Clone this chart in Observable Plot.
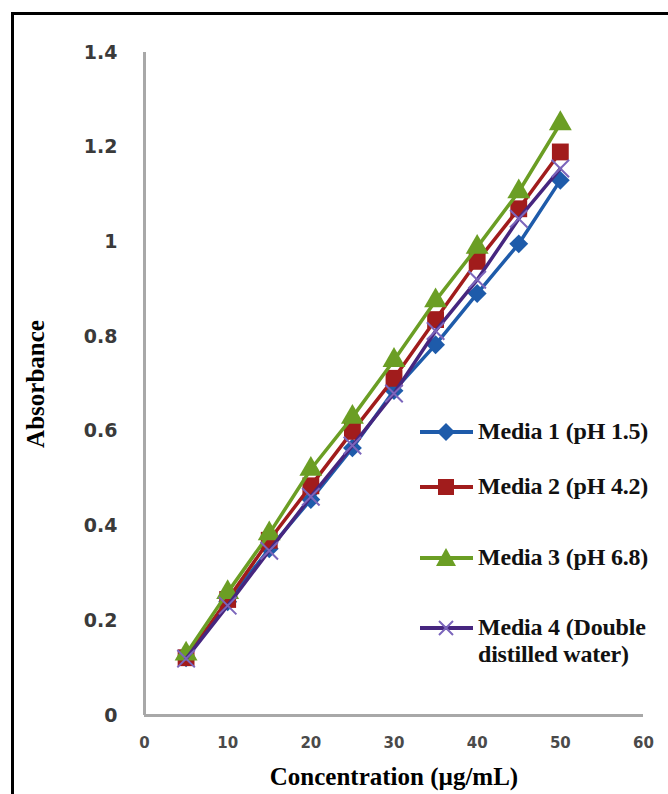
<!DOCTYPE html>
<html><head><meta charset="utf-8">
<script src="https://cdn.jsdelivr.net/npm/d3@7"></script>
<script src="https://cdn.jsdelivr.net/npm/@observablehq/plot@0.6"></script>
<style>
html,body{margin:0;padding:0;background:#fff;width:668px;height:794px;overflow:hidden;}
#wrap{position:relative;width:668px;height:794px;}
#frame{position:absolute;left:11px;top:12px;width:720px;height:900px;border:3px solid #000;box-sizing:border-box;}
#chart{position:absolute;left:0;top:0;}
#legend{position:absolute;left:0;top:0;width:668px;height:794px;font-family:"Liberation Serif";font-size:24px;font-weight:bold;color:#111;pointer-events:none;}
.sw{position:absolute;}
.lt{position:absolute;line-height:27px;white-space:nowrap;letter-spacing:-0.2px;}
</style>
</head><body>
<div id="wrap"><div id="frame"></div><div id="chart"></div><div id="legend"></div></div>
<script>
// ---- data ----
const concentration = [5, 10, 15, 20, 25, 30, 35, 40, 45, 50];
const media1 = [0.122, 0.240, 0.352, 0.456, 0.565, 0.686, 0.783, 0.891, 0.996, 1.130];
const media2 = [0.122, 0.245, 0.370, 0.485, 0.600, 0.712, 0.836, 0.959, 1.070, 1.190];
const media3 = [0.130, 0.260, 0.384, 0.520, 0.630, 0.750, 0.876, 0.989, 1.106, 1.250];
const media4 = [0.120, 0.232, 0.348, 0.462, 0.570, 0.680, 0.812, 0.920, 1.049, 1.155];
const seriesNames = ["Media 1 (pH 1.5)", "Media 2 (pH 4.2)", "Media 3 (pH 6.8)", "Media 4 (Double distilled water)"];
const legendLines = [["Media 1 (pH 1.5)"], ["Media 2 (pH 4.2)"], ["Media 3 (pH 6.8)"], ["Media 4 (Double", "distilled water)"]];
const seriesColors = ["#1E5BAA", "#A11C1C", "#6B9E24", "#46267F"];
const markerColors = ["#1E5BAA", "#A11C1C", "#6B9E24", "#7B65BB"];
const symbols = ["diamond2", "square", "triangle", "times"];
const xTicks = [0, 10, 20, 30, 40, 50, 60];
const yTicks = [0, 0.2, 0.4, 0.6, 0.8, 1.0, 1.2, 1.4];
const yTickLabels = ["0", "0.2", "0.4", "0.6", "0.8", "1", "1.2", "1.4"];
const xTitle = "Concentration (µg/mL)";
const yTitle = "Absorbance";

const allValues = [media1, media2, media3, media4];
const tables = allValues.map((vals, k) => concentration.map((c, i) => ({c, v: vals[i], s: seriesNames[k]})));

const seriesMarks = [];
tables.forEach((rows, k) => {
  seriesMarks.push(Plot.line(rows, {x: "c", y: "v", stroke: seriesColors[k], strokeWidth: 3.5}));
  const sym = symbols[k];
  if (sym === "times") {
    seriesMarks.push(Plot.dot(rows, {x: "c", y: "v", symbol: sym, r: 8, stroke: markerColors[k], strokeWidth: 2, fill: "none"}));
  } else {
    const r = sym === "triangle" ? 8.5 : sym === "square" ? 9.5 : 8.5;
    seriesMarks.push(Plot.dot(rows, {x: "c", y: "v", symbol: sym, r, fill: markerColors[k], stroke: "none"}));
  }
});

const chart = Plot.plot({
  width: 668, height: 794,
  marginLeft: 144, marginRight: 25, marginTop: 52, marginBottom: 79,
  style: {background: "transparent", fontFamily: "DejaVu Sans"},
  x: {domain: [0, 60], axis: null},
  y: {domain: [0, 1.4], axis: null},
  marks: [
    Plot.axisY(yTicks, {anchor: "left", tickSize: 0, tickPadding: 27, tickFormat: d => yTickLabels[yTicks.indexOf(d)], fontSize: 19, fontWeight: "bold", fontFamily: "DejaVu Sans", fill: "#3a3a3a", label: null}),
    Plot.axisX(xTicks, {anchor: "bottom", tickSize: 0, tickPadding: 22, tickFormat: d => String(d), fontSize: 15, fontWeight: "bold", fontFamily: "DejaVu Sans", fill: "#4a4a4a", label: null}),
    Plot.ruleX([0], {y1: 0, y2: 1.4, stroke: "#a8a8a8", strokeWidth: 3}),
    Plot.ruleY([0], {x1: 0, x2: 60, stroke: "#a8a8a8", strokeWidth: 3}),
    Plot.text([yTitle], {frameAnchor: "left", textAnchor: "middle", lineAnchor: "middle", rotate: -90, dx: -109, fontFamily: "Liberation Serif", fontWeight: "bold", fontSize: 25, fill: "#000"}),
    Plot.text([xTitle], {frameAnchor: "bottom", textAnchor: "middle", lineAnchor: "middle", dy: 61, fontFamily: "Liberation Serif", fontWeight: "bold", fontSize: 25, fill: "#000"}),
    ...seriesMarks
  ]
});
document.getElementById("chart").appendChild(chart);

// legend (HTML overlay inside the plot area)
const legend = document.getElementById("legend");
const legendY = [432, 487, 558, 628];
const symPaths = {
  diamond2: '<path d="M0,-9L9,0L0,9L-9,0Z"/>',
  square: '<rect x="-8" y="-8" width="16" height="16"/>',
  triangle: '<path d="M0,-10L10,8L-10,8Z"/>',
  times: '<path d="M-7,-7L7,7M-7,7L7,-7" fill="none"/>'
};
legendLines.forEach((lines, k) => {
  const cy = legendY[k];
  const sw = document.createElement("div");
  sw.className = "sw";
  sw.style.left = "418px"; sw.style.top = (cy - 12) + "px";
  const sym = symbols[k];
  const mk = sym === "times"
    ? `<g transform="translate(28,12)" stroke="${markerColors[k]}" stroke-width="2">${symPaths[sym]}</g>`
    : `<g transform="translate(28,12)" fill="${markerColors[k]}">${symPaths[sym]}</g>`;
  sw.innerHTML = `<svg width="56" height="24"><line x1="2" x2="55" y1="12" y2="12" stroke="${seriesColors[k]}" stroke-width="4"/>${mk}</svg>`;
  legend.appendChild(sw);
  const t = document.createElement("div");
  t.className = "lt";
  t.style.left = "478px"; t.style.top = (cy - 14) + "px";
  t.innerHTML = lines.join("<br>");
  legend.appendChild(t);
});
</script>
</body></html>
